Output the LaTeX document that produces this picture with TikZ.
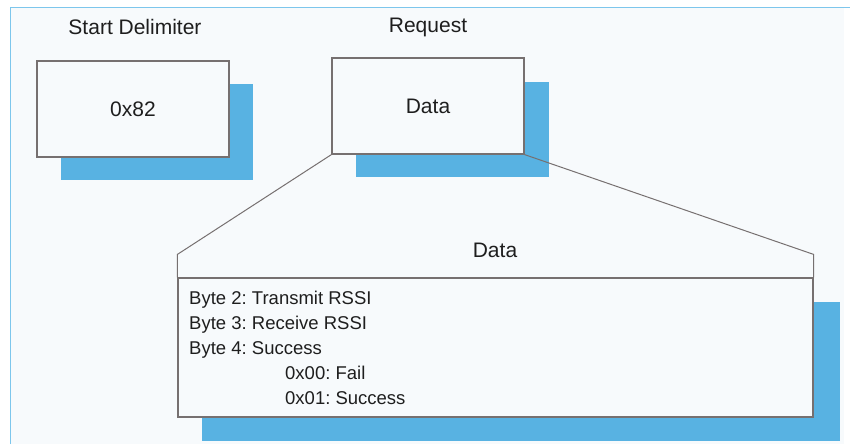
\documentclass[tikz,border=0pt]{standalone}
\usepackage{fontspec}
\setmainfont{Liberation Sans}
\frenchspacing
\definecolor{bgblue}{RGB}{247,250,252}
\definecolor{rimblue}{RGB}{125,198,236}
\definecolor{shadeblue}{RGB}{88,178,226}
\definecolor{edgegray}{RGB}{118,112,112}
\definecolor{inkgray}{RGB}{30,30,30}
\tikzset{
  field/.style={draw=edgegray, line width=1.2pt, fill=bgblue, text=inkgray,
    minimum width=192pt, minimum height=96pt, inner sep=0pt,
    font=\fontsize{21}{25}\selectfont},
  shade/.style={fill=shadeblue},
  title/.style={font=\fontsize{21}{25}\selectfont, text=inkgray},
  fan/.style={draw=edgegray, line width=1pt},
}

\begin{document}
\begin{tikzpicture}[x=1pt,y=-1pt]
  \useasboundingbox (0,0) rectangle (850,444);
  \fill[bgblue] (10,7) rectangle (844,444);
  \draw[rimblue, line width=1.5pt] (10.5,444) -- (10.5,7.5) -- (850,7.5);

  % shadows
  \fill[shade] (61,84) rectangle (253,180);
  \fill[shade] (356,82) rectangle (549,177);
  \fill[shade] (202,302) rectangle (840,441);

  % frame fields
  \node[title] (starttitle) at (135,27) {Start Delimiter};
  \node[title] (reqtitle) at (428,27) {Request};
  \node[field] (start) at (133,109) {0x82};
  \node[field] (req) at (428,106) {Data};

  % zoom into the data field
  \node[field, minimum width=635pt, minimum height=139pt] (bytes) at (495.5,347.5) {};
  \coordinate (hdl) at ([yshift=23pt]bytes.north west);
  \coordinate (hdr) at ([yshift=23pt]bytes.north east);
  \draw[fan] (req.south west) -- (hdl) -- (bytes.north west);
  \draw[fan] (req.south east) -- (hdr) -- (bytes.north east);
  \node[title] (datatitle) at (495,250) {Data};

  \node[anchor=north west, inner sep=0pt, align=left, text=inkgray,
    font=\fontsize{18.5}{25}\selectfont] (bytelist) at (189,291)
    {Byte 2: Transmit RSSI\\
     Byte 3: Receive RSSI\\
     Byte 4: Success\\
     \hspace*{96pt}0x00: Fail\\
     \hspace*{96pt}0x01: Success};
\end{tikzpicture}
\end{document}
